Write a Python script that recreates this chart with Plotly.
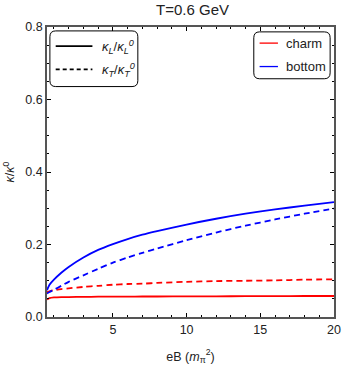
import plotly.graph_objects as go

# ---- data ----
eB = [0.53, 0.7, 1.0, 1.5, 2.0, 3.0, 4.0, 5.0, 6.0, 7.0, 8.0, 10.0, 12.0, 14.0, 16.0, 18.0, 20.0]
bottom_L = [0.074, 0.089, 0.103, 0.122, 0.138, 0.164, 0.185, 0.201, 0.215, 0.227, 0.237, 0.255, 0.271, 0.285, 0.297, 0.307, 0.317]
bottom_T = [0.065, 0.069, 0.075, 0.086, 0.097, 0.115, 0.133, 0.150, 0.164, 0.177, 0.189, 0.212, 0.233, 0.252, 0.269, 0.285, 0.299]
charm_L = [0.048, 0.052, 0.054, 0.055, 0.055, 0.0555, 0.056, 0.056, 0.056, 0.0565, 0.0565, 0.057, 0.057, 0.0575, 0.0575, 0.058, 0.058]
charm_T = [0.068, 0.071, 0.074, 0.077, 0.079, 0.083, 0.086, 0.089, 0.091, 0.092, 0.094, 0.097, 0.099, 0.100, 0.101, 0.103, 0.104]

x_ticks = [5, 10, 15, 20]
y_ticks = [0.0, 0.2, 0.4, 0.6, 0.8]
legend_styles = ["<i>κ<sub>L</sub></i>/<i>κ<sub>L</sub><sup>0</sup></i>", "<i>κ<sub>T</sub></i>/<i>κ<sub>T</sub><sup>0</sup></i>"]
legend_quarks = ["charm", "bottom"]

W, H = 350, 371
ML, MR, MT, MB = 44, 9, 27, 47
PW, PH = W - ML - MR, H - MT - MB

def px2paper(xp, yp):
    return (xp - ML) / PW, 1 - (yp - MT) / PH

def rounded_box(x0p, y0p, x1p, y1p, r=6):
    def P(x, y):
        a, b = px2paper(x, y)
        return f"{a:.5f},{b:.5f}"
    return (f"M {P(x0p + r, y0p)} L {P(x1p - r, y0p)} Q {P(x1p, y0p)} {P(x1p, y0p + r)} "
            f"L {P(x1p, y1p - r)} Q {P(x1p, y1p)} {P(x1p - r, y1p)} "
            f"L {P(x0p + r, y1p)} Q {P(x0p, y1p)} {P(x0p, y1p - r)} "
            f"L {P(x0p, y0p + r)} Q {P(x0p, y0p)} {P(x0p + r, y0p)} Z")

RED, BLUE = "#ff0000", "#0000ff"
DASH = "6px,4px"
LW = 1.8
FONT = "Liberation Sans, Arial, sans-serif"
TXT = "#222"

fig = go.Figure()
fig.add_trace(go.Scatter(x=eB, y=charm_L, mode="lines", line=dict(color=RED, width=LW, shape="spline", smoothing=0.8), showlegend=False))
fig.add_trace(go.Scatter(x=eB, y=charm_T, mode="lines", line=dict(color=RED, width=LW, dash=DASH, shape="spline", smoothing=0.8), showlegend=False))
fig.add_trace(go.Scatter(x=eB, y=bottom_L, mode="lines", line=dict(color=BLUE, width=LW, shape="spline", smoothing=0.8), showlegend=False))
fig.add_trace(go.Scatter(x=eB, y=bottom_T, mode="lines", line=dict(color=BLUE, width=LW, dash=DASH, shape="spline", smoothing=0.8), showlegend=False))

axis_common = dict(showline=True, mirror="allticks", linecolor="#555", linewidth=1.5,
                   ticks="inside", ticklen=4, tickwidth=1.2, tickcolor="black",
                   showgrid=False, zeroline=False,
                   tickfont=dict(family=FONT, size=12.5, color=TXT))

shapes = [
    dict(type="path", xref="paper", yref="paper", path=rounded_box(47, 31, 138, 88),
         line=dict(color="black", width=1), fillcolor="white", layer="above"),
    dict(type="path", xref="paper", yref="paper", path=rounded_box(258, 32, 337, 80),
         line=dict(color="black", width=1), fillcolor="white", layer="above"),
]
annotations = []

# manual legend 1: line styles
for i, (label, dash) in enumerate(zip(legend_styles, ["solid", "4px,3px"])):
    yp = 46.5 + i * 24
    x0, y0 = px2paper(53, yp)
    x1, _ = px2paper(91, yp)
    shapes.append(dict(type="line", xref="paper", yref="paper", x0=x0, x1=x1, y0=y0, y1=y0,
                       line=dict(color="black", width=LW, dash=dash), layer="above"))
    tx, ty = px2paper(99, yp + 1)
    annotations.append(dict(text=label, xref="paper", yref="paper", x=tx, y=ty, xanchor="left", yanchor="middle",
                            showarrow=False, font=dict(family=FONT, size=13, color=TXT)))

# manual legend 2: colours
for i, (label, col) in enumerate(zip(legend_quarks, [RED, BLUE])):
    yp = 43.5 + i * 24
    x0, y0 = px2paper(264, yp)
    x1, _ = px2paper(283, yp)
    shapes.append(dict(type="line", xref="paper", yref="paper", x0=x0, x1=x1, y0=y0, y1=y0,
                       line=dict(color=col, width=1.3), layer="above"))
    tx, ty = px2paper(289, yp)
    annotations.append(dict(text=label, xref="paper", yref="paper", x=tx, y=ty, xanchor="left", yanchor="middle",
                            showarrow=False, font=dict(family=FONT, size=13, color=TXT)))

fig.update_layout(
    width=W, height=H,
    margin=dict(l=ML, r=MR, t=MT, b=MB),
    paper_bgcolor="white", plot_bgcolor="white",
    font=dict(family=FONT, size=12, color=TXT),
    showlegend=False,
    hovermode=False,
    title=dict(text="T=0.6 GeV", x=(ML + PW / 2) / W, xanchor="center", y=1 - 10 / H, yanchor="middle",
               font=dict(family=FONT, size=15, color=TXT)),
    xaxis=dict(range=[0.53, 20], tickvals=x_ticks, ticktext=[str(v) for v in x_ticks],
               minor=dict(dtick=1, tick0=0, ticks="inside", ticklen=2.5, tickcolor="black", tickwidth=1.2),
               title=dict(text="eB (<i>m</i><sub>π</sub><sup>2</sup>)", font=dict(family=FONT, size=12.5, color=TXT), standoff=16),
               **axis_common),
    yaxis=dict(range=[0, 0.8], tickvals=y_ticks, ticktext=[f"{v:.1f}" for v in y_ticks],
               minor=dict(dtick=0.05, tick0=0, ticks="inside", ticklen=2.5, tickcolor="black", tickwidth=1.2),
               title=dict(text="<i>κ</i>/<i>κ</i><sup>0</sup>", font=dict(family=FONT, size=12.5, color=TXT), standoff=8),
               **axis_common),
    shapes=shapes,
    annotations=annotations,
)

fig.write_html("out.html", config={"displayModeBar": False},
               post_script="document.body.style.margin='0';")
